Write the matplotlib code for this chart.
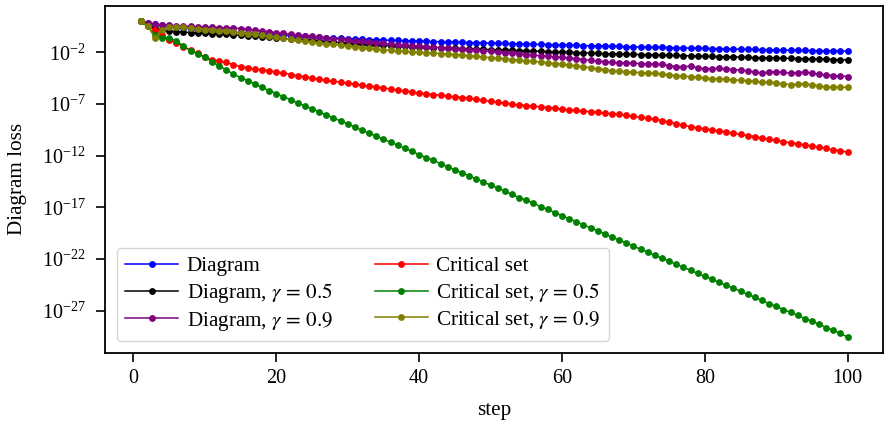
import numpy as np
import matplotlib
matplotlib.use('Agg')
import matplotlib.pyplot as plt

# ──────────────────────────────────────────────────────────────
# Datos (log10 de la pérdida)
# ──────────────────────────────────────────────────────────────
steps = list(range(1, 101))

diagram = [
    1.00, 0.85, 0.72, 0.60, 0.50, 0.42, 0.34, 0.26, 0.18, 0.10,
    0.06, 0.02, -0.03, -0.07, -0.11, -0.15, -0.19, -0.23, -0.27, -0.31,
    -0.35, -0.39, -0.43, -0.47, -0.51, -0.54, -0.58, -0.61, -0.65, -0.68,
    -0.71, -0.74, -0.77, -0.80, -0.82, -0.84, -0.86, -0.88, -0.90, -0.92,
    -0.94, -0.96, -0.98, -1.00, -1.02, -1.04, -1.06, -1.08, -1.10, -1.12,
    -1.14, -1.15, -1.17, -1.19, -1.21, -1.22, -1.24, -1.26, -1.28, -1.30,
    -1.31, -1.33, -1.35, -1.37, -1.38, -1.40, -1.42, -1.44, -1.46, -1.48,
    -1.49, -1.50, -1.52, -1.53, -1.55, -1.56, -1.58, -1.59, -1.61, -1.63,
    -1.64, -1.66, -1.67, -1.69, -1.70, -1.71, -1.73, -1.74, -1.76, -1.77,
    -1.78, -1.80, -1.81, -1.82, -1.84, -1.85, -1.86, -1.87, -1.89, -1.90,
]

diagram_g05 = [
    1.00, 0.60, 0.35, 0.15, 0.05, 0.00, -0.05, -0.09, -0.13, -0.17,
    -0.20, -0.24, -0.28, -0.32, -0.36, -0.41, -0.46, -0.51, -0.56, -0.61,
    -0.66, -0.71, -0.76, -0.81, -0.86, -0.91, -0.96, -1.01, -1.06, -1.11,
    -1.16, -1.21, -1.26, -1.30, -1.34, -1.37, -1.40, -1.43, -1.46, -1.49,
    -1.51, -1.54, -1.56, -1.59, -1.61, -1.64, -1.66, -1.69, -1.71, -1.74,
    -1.76, -1.79, -1.81, -1.84, -1.86, -1.88, -1.91, -1.93, -1.95, -1.98,
    -2.00, -2.03, -2.05, -2.08, -2.10, -2.13, -2.15, -2.17, -2.19, -2.21,
    -2.22, -2.24, -2.26, -2.28, -2.29, -2.31, -2.33, -2.35, -2.37, -2.38,
    -2.40, -2.42, -2.44, -2.45, -2.47, -2.49, -2.51, -2.52, -2.54, -2.56,
    -2.58, -2.59, -2.61, -2.63, -2.65, -2.66, -2.68, -2.70, -2.72, -2.74,
]

diagram_g09 = [
    1.00, 0.82, 0.70, 0.64, 0.60, 0.56, 0.53, 0.50, 0.47, 0.44,
    0.41, 0.39, 0.36, 0.34, 0.30, 0.22, 0.14, 0.06, -0.02, -0.10,
    -0.18, -0.25, -0.32, -0.39, -0.46, -0.53, -0.60, -0.67, -0.74, -0.81,
    -0.88, -0.95, -1.02, -1.09, -1.15, -1.20, -1.25, -1.30, -1.35, -1.40,
    -1.45, -1.50, -1.55, -1.60, -1.65, -1.70, -1.75, -1.80, -1.86, -1.92,
    -1.98, -2.04, -2.10, -2.16, -2.22, -2.28, -2.33, -2.38, -2.44, -2.50,
    -2.56, -2.62, -2.70, -2.78, -2.85, -2.92, -2.98, -3.00, -3.03, -3.06,
    -3.10, -3.12, -3.15, -3.18, -3.30, -3.38, -3.40, -3.35, -3.50, -3.60,
    -3.58, -3.55, -3.62, -3.68, -3.72, -3.80, -3.90, -3.98, -3.92, -3.88,
    -3.95, -4.02, -3.96, -3.90, -4.05, -4.12, -4.20, -4.25, -4.28, -4.35,
]

critical = [
    1.00, 0.50, 0.15, -0.30, -0.85, -1.10, -1.45, -1.80, -2.10, -2.45,
    -2.70, -2.85, -2.97, -3.20, -3.39, -3.50, -3.60, -3.70, -3.80, -3.90,
    -4.00, -4.15, -4.26, -4.38, -4.50, -4.60, -4.72, -4.80, -4.90, -5.00,
    -5.08, -5.18, -5.30, -5.35, -5.45, -5.55, -5.65, -5.75, -5.85, -5.95,
    -6.00, -6.10, -6.15, -6.25, -6.30, -6.38, -6.45, -6.55, -6.65, -6.75,
    -6.85, -6.95, -7.02, -7.10, -7.15, -7.20, -7.28, -7.35, -7.42, -7.50,
    -7.58, -7.62, -7.68, -7.75, -7.80, -7.88, -7.95, -8.00, -8.10, -8.20,
    -8.30, -8.40, -8.48, -8.60, -8.75, -8.90, -9.05, -9.20, -9.30, -9.40,
    -9.50, -9.60, -9.70, -9.83, -9.95, -10.05, -10.15, -10.30, -10.40, -10.50,
    -10.65, -10.75, -10.85, -10.95, -11.10, -11.20, -11.30, -11.45, -11.55, -11.65,
]

critical_g05 = [
    1.00, 0.50, -0.35, -0.65, -0.62, -0.90, -1.40, -1.85, -2.15, -2.48,
    -2.90, -3.35, -3.70, -4.10, -4.45, -4.75, -5.05, -5.40, -5.70, -6.00,
    -6.30, -6.58, -6.90, -7.18, -7.45, -7.78, -8.05, -8.35, -8.65, -8.92,
    -9.22, -9.55, -9.82, -10.10, -10.42, -10.70, -10.98, -11.30, -11.58, -11.90,
    -12.18, -12.45, -12.78, -13.05, -13.38, -13.65, -13.95, -14.25, -14.55, -14.85,
    -15.12, -15.42, -15.75, -16.05, -16.30, -16.60, -16.92, -17.20, -17.50, -17.80,
    -18.10, -18.38, -18.70, -18.98, -19.25, -19.58, -19.88, -20.15, -20.45, -20.75,
    -21.05, -21.32, -21.62, -21.92, -22.20, -22.50, -22.80, -23.08, -23.38, -23.68,
    -23.95, -24.25, -24.55, -24.82, -25.12, -25.42, -25.70, -26.00, -26.30, -26.58,
    -26.88, -27.15, -27.45, -27.75, -28.02, -28.30, -28.62, -28.90, -29.20, -29.55,
]

critical_g09 = [
    1.00, 0.57, -0.62, 0.20, 0.45, 0.45, 0.40, 0.33, 0.26, 0.20,
    0.14, 0.08, 0.02, -0.04, -0.10, -0.19, -0.28, -0.37, -0.46, -0.55,
    -0.64, -0.73, -0.82, -0.91, -1.00, -1.08, -1.16, -1.24, -1.32, -1.40,
    -1.48, -1.56, -1.63, -1.70, -1.76, -1.81, -1.86, -1.91, -1.96, -2.00,
    -2.04, -2.08, -2.12, -2.17, -2.22, -2.28, -2.34, -2.40, -2.46, -2.52,
    -2.58, -2.64, -2.70, -2.76, -2.82, -2.88, -2.95, -3.02, -3.09, -3.16,
    -3.24, -3.32, -3.40, -3.50, -3.60, -3.70, -3.78, -3.84, -3.88, -3.92,
    -3.96, -4.00, -4.05, -4.10, -4.18, -4.26, -4.32, -4.36, -4.42, -4.50,
    -4.55, -4.58, -4.62, -4.66, -4.70, -4.76, -4.82, -4.88, -4.92, -4.98,
    -5.05, -5.12, -5.10, -5.08, -5.15, -5.25, -5.35, -5.40, -5.38, -5.38,
]

labels = [
    'Diagram', r'Diagram, $\gamma\,=\,0.5$', r'Diagram, $\gamma\,=\,0.9$',
    'Critical set', r'Critical set, $\gamma\,=\,0.5$', r'Critical set, $\gamma\,=\,0.9$',
]
colors = ['blue', 'black', 'purple', 'red', 'green', 'olive']
series = [diagram, diagram_g05, diagram_g09, critical, critical_g05, critical_g09]

# ──────────────────────────────────────────────────────────────
# Estilo
# ──────────────────────────────────────────────────────────────
plt.rcParams['font.family'] = 'serif'
plt.rcParams['font.serif'] = ['Liberation Serif', 'DejaVu Serif']
plt.rcParams['mathtext.fontset'] = 'stix'
plt.rcParams['font.size'] = 15.2
plt.rcParams['axes.labelsize'] = 15.2
plt.rcParams['xtick.labelsize'] = 14.5
plt.rcParams['ytick.labelsize'] = 14.5
plt.rcParams['axes.linewidth'] = 1.3
plt.rcParams['xtick.major.size'] = 6.5
plt.rcParams['ytick.major.size'] = 6.5
plt.rcParams['xtick.major.width'] = 1.2
plt.rcParams['ytick.major.width'] = 1.2
plt.rcParams['xtick.major.pad'] = 5
plt.rcParams['ytick.major.pad'] = 7.5

fig, ax = plt.subplots(figsize=(8.86, 4.26), dpi=100)
fig.subplots_adjust(left=0.1188, right=0.9966, bottom=0.172, top=0.986)

for vals, col, lab in zip(series, colors, labels):
    ax.plot(steps, 10.0 ** np.array(vals), '-o', color=col, label=lab,
            markersize=3.9, linewidth=1.1)

ax.set_yscale('log')
ax.set_ylim(10 ** -31.06, 10 ** 2.48)
ax.set_yticks([10.0 ** k for k in range(-27, 0, 5)])
ax.yaxis.set_minor_locator(matplotlib.ticker.NullLocator())
ax.set_xticks([0, 20, 40, 60, 80, 100])
ax.set_xlabel('step')
ax.set_ylabel('Diagram loss')
ax.xaxis.set_label_coords(0.5, -0.14)
ax.yaxis.set_label_coords(-0.10, 0.5)
ax.legend(loc='lower left', ncol=2, labelspacing=0.22, handlelength=2.5,
          handletextpad=0.4, columnspacing=2.0, borderaxespad=0.55)

fig.savefig('out.png', dpi=100)
